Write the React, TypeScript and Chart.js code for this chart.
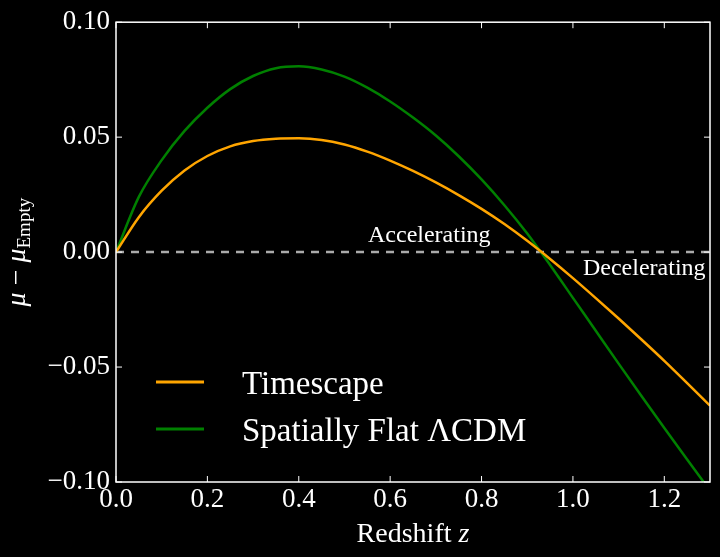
import { useEffect, useRef } from 'react'
import { Chart, registerables } from 'chart.js'

Chart.register(...registerables)

const SERIF = "'Liberation Serif', 'DejaVu Serif', 'Times New Roman', serif"

// redshift samples and distance-modulus residuals
const redshift = [
  0, 0.05, 0.1, 0.15, 0.2, 0.25, 0.3, 0.35, 0.4, 0.45, 0.5, 0.55, 0.6, 0.65,
  0.7, 0.75, 0.8, 0.85, 0.9, 0.95, 1.0, 1.05, 1.1, 1.15, 1.2, 1.25, 1.3,
]
const timescape = [
  0, 0.0152, 0.0267, 0.0355, 0.0418, 0.046, 0.0483, 0.0493, 0.0495, 0.0488,
  0.0468, 0.0437, 0.0398, 0.0353, 0.0303, 0.0248, 0.0188, 0.0122, 0.0049, -0.003,
  -0.0113, -0.02, -0.0289, -0.038, -0.0473, -0.057, -0.0668,
]
const flatLcdm = [
  0, 0.024, 0.04, 0.0527, 0.0628, 0.0709, 0.0766, 0.08, 0.0808, 0.0794, 0.0763,
  0.0715, 0.0655, 0.0585, 0.0507, 0.0417, 0.0316, 0.0204, 0.0081, -0.0056, -0.0199,
  -0.0342, -0.0485, -0.0626, -0.0765, -0.0902, -0.1038,
]
const zeroLineZ = [0, 1.3]
const zeroLineMu = [0, 0]

const seriesLabels = ['Timescape', 'Spatially Flat \u039BCDM']
const seriesColors = ['#ffa500', '#008000']

const xTicks = [0, 0.2, 0.4, 0.6, 0.8, 1.0, 1.2]
const yTicks = [-0.1, -0.05, 0, 0.05, 0.1]

// text anchors in data units
const accelAt = { z: 0.5515, mu: 0.0045 }
const decelAt = { z: 1.022, mu: -0.01 }

const toPoints = (xs: number[], ys: number[]) => xs.map((x, i) => ({ x, y: ys[i] }))

const overlay = {
  id: 'overlay',
  afterDatasetsDraw(chart: any) {
    const { ctx, chartArea: a, scales } = chart
    const xs = scales.x
    const ys = scales.y
    ctx.save()

    // frame
    ctx.strokeStyle = '#ffffff'
    ctx.lineWidth = 1.5
    ctx.strokeRect(a.left, a.top, a.right - a.left, a.bottom - a.top)

    // inward ticks on all sides
    const t = 6
    ctx.lineWidth = 1
    ctx.beginPath()
    xTicks.forEach((v) => {
      const px = xs.getPixelForValue(v)
      ctx.moveTo(px, a.bottom)
      ctx.lineTo(px, a.bottom - t)
      ctx.moveTo(px, a.top)
      ctx.lineTo(px, a.top + t)
    })
    yTicks.forEach((v) => {
      const py = ys.getPixelForValue(v)
      ctx.moveTo(a.left, py)
      ctx.lineTo(a.left + t, py)
      ctx.moveTo(a.right, py)
      ctx.lineTo(a.right - t, py)
    })
    ctx.stroke()

    ctx.fillStyle = '#ffffff'
    ctx.textBaseline = 'alphabetic'

    // annotations
    ctx.font = `24px ${SERIF}`
    ctx.textAlign = 'left'
    ctx.fillText('Accelerating', xs.getPixelForValue(accelAt.z), ys.getPixelForValue(accelAt.mu))
    ctx.fillText('Decelerating', xs.getPixelForValue(decelAt.z), ys.getPixelForValue(decelAt.mu))

    // legend
    const legendRows = [382, 429]
    chart.data.datasets.slice(0, 2).forEach((ds: any, i: number) => {
      ctx.strokeStyle = ds.borderColor
      ctx.lineWidth = 3
      ctx.beginPath()
      ctx.moveTo(156, legendRows[i])
      ctx.lineTo(204, legendRows[i])
      ctx.stroke()
      ctx.font = `33px ${SERIF}`
      ctx.fillText(ds.label, 242, legendRows[i] + 12)
    })

    // x title: Redshift z
    const cx = (a.left + a.right) / 2
    ctx.font = `28px ${SERIF}`
    const w1 = ctx.measureText('Redshift ').width
    ctx.font = `italic 28px ${SERIF}`
    const w2 = ctx.measureText('z').width
    const sx = cx - (w1 + w2) / 2
    ctx.font = `28px ${SERIF}`
    ctx.fillText('Redshift ', sx, 542)
    ctx.font = `italic 28px ${SERIF}`
    ctx.fillText('z', sx + w1, 542)

    // y title: mu - mu_Empty
    ctx.translate(25, (a.top + a.bottom) / 2)
    ctx.rotate(-Math.PI / 2)
    const parts = [
      { s: '\u03BC', f: `italic 28px ${SERIF}`, dy: 0 },
      { s: ' \u2212 ', f: `28px ${SERIF}`, dy: 0 },
      { s: '\u03BC', f: `italic 28px ${SERIF}`, dy: 0 },
      { s: 'Empty', f: `19px ${SERIF}`, dy: 5 },
    ]
    let total = 0
    parts.forEach((p) => {
      ctx.font = p.f
      total += ctx.measureText(p.s).width
    })
    let px = -total / 2
    parts.forEach((p) => {
      ctx.font = p.f
      ctx.fillText(p.s, px, p.dy)
      px += ctx.measureText(p.s).width
    })

    ctx.restore()
  },
}

export default function App() {
  const chartRef = useRef<HTMLCanvasElement>(null)
  const chartInstanceRef = useRef<Chart | null>(null)

  useEffect(() => {
    if (!chartRef.current) return
    if (chartInstanceRef.current) chartInstanceRef.current.destroy()

    chartInstanceRef.current = new Chart(chartRef.current, {
      type: 'line',
      data: {
        datasets: [
          {
            label: seriesLabels[0],
            data: toPoints(redshift, timescape),
            borderColor: seriesColors[0],
            borderWidth: 2.5,
            pointRadius: 0,
            cubicInterpolationMode: 'monotone',
          },
          {
            label: seriesLabels[1],
            data: toPoints(redshift, flatLcdm),
            borderColor: seriesColors[1],
            borderWidth: 2.5,
            pointRadius: 0,
            cubicInterpolationMode: 'monotone',
          },
          {
            label: 'zero',
            data: toPoints(zeroLineZ, zeroLineMu),
            borderColor: '#aaaaaa',
            borderWidth: 2.5,
            borderDash: [8, 7],
            pointRadius: 0,
          },
        ],
      },
      options: {
        animation: false,
        responsive: true,
        maintainAspectRatio: false,
        layout: { padding: { left: 0, right: 10, top: 22, bottom: 0 } },
        plugins: {
          legend: { display: false },
          tooltip: { enabled: false },
        },
        scales: {
          x: {
            type: 'linear',
            min: 0,
            max: 1.3,
            afterBuildTicks: (s: any) => {
              s.ticks = xTicks.map((value) => ({ value }))
            },
            afterFit: (s: any) => {
              s.height = 75
            },
            grid: { display: false, drawTicks: false },
            border: { display: false },
            ticks: {
              color: '#ffffff',
              padding: 2,
              maxRotation: 0,
              font: { family: SERIF, size: 27 },
              callback: (v: any) => Number(v).toFixed(1),
            },
          },
          y: {
            type: 'linear',
            min: -0.1,
            max: 0.1,
            afterBuildTicks: (s: any) => {
              s.ticks = yTicks.map((value) => ({ value }))
            },
            afterFit: (s: any) => {
              s.width = 116
            },
            grid: { display: false, drawTicks: false },
            border: { display: false },
            ticks: {
              color: '#ffffff',
              padding: 6,
              font: { family: SERIF, size: 27 },
              callback: (v: any) => Number(v).toFixed(2).replace('-', '\u2212'),
            },
          },
        },
      },
      plugins: [overlay],
    })

    return () => {
      if (chartInstanceRef.current) {
        chartInstanceRef.current.destroy()
        chartInstanceRef.current = null
      }
    }
  }, [])

  return (
    <div style={{ position: 'fixed', left: 0, top: 0, width: 720, height: 557, background: '#000' }}>
      <canvas ref={chartRef}></canvas>
    </div>
  )
}
